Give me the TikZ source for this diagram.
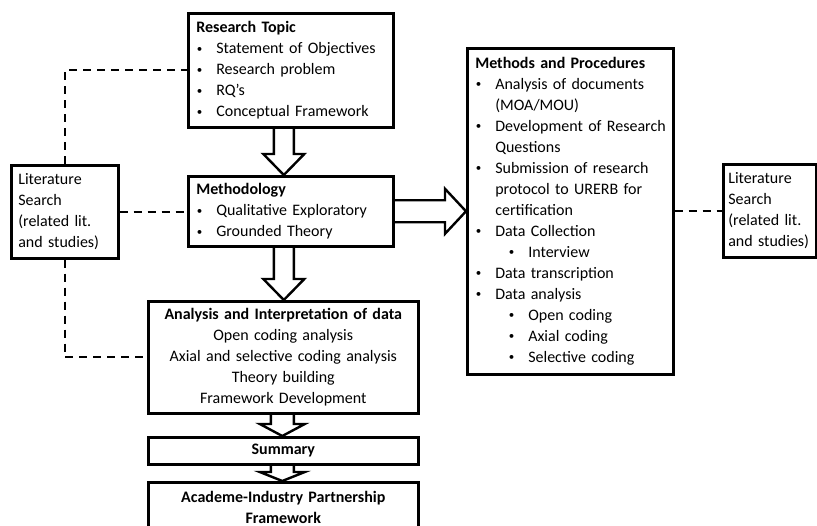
\documentclass[tikz,border=0pt]{standalone}
\usepackage{fontspec}
\setmainfont{Carlito}
\usetikzlibrary{calc}

% bullet helpers for the list-style boxes
\newcommand{\bdot}{\raisebox{1.6pt}{\fontsize{11}{11}\selectfont •}}
\newcommand{\bitem}{\makebox[20pt][l]{\hspace{0.5pt}\bdot}}
\newcommand{\bcont}{\hspace*{20pt}}
\newcommand{\bsub}{\hspace*{33pt}\makebox[20pt][l]{\hspace{0.5pt}\bdot}}

\begin{document}
\begin{tikzpicture}[x=1pt,y=-1pt,
  every node/.style={font=\fontsize{16}{21}\selectfont},
  box/.style={draw, line width=2.6pt, rectangle, inner ysep=0pt, anchor=north west},
  leftbox/.style={box, align=left, inner xsep=8pt},
  centerbox/.style={box, align=center, inner xsep=4pt},
  litlink/.style={line width=1.8pt, dash pattern=on 8pt off 6pt},
  blockarrow/.style={line width=2.4pt, line join=miter}
]
\useasboundingbox (0,0) rectangle (817,526);
\clip (0,0) rectangle (817,526);

% ---- boxes ----
\node[leftbox, text width=189pt, minimum width=205pt, minimum height=114pt] (rt) at (187,12)
  {\textbf{Research Topic}\\
   \bitem Statement of Objectives\\
   \bitem Research problem\\
   \bitem RQ’s\\
   \bitem Conceptual Framework};

\node[leftbox, text width=189pt, minimum width=205pt, minimum height=70pt] (meth) at (187,175)
  {\textbf{Methodology}\\
   \bitem Qualitative Exploratory\\
   \bitem Grounded Theory};

\node[leftbox, inner xsep=7pt, text width=93pt, minimum width=107pt, minimum height=93pt] (litL) at (10,164)
  {Literature\\ Search\\ (related lit.\\ and studies)};

\node[centerbox, text width=262pt, minimum width=270pt, minimum height=112pt] (an) at (147,300)
  {\textbf{Analysis and Interpretation of data}\\
   Open coding analysis\\
   Axial and selective coding analysis\\
   Theory building\\
   Framework Development};

\node[centerbox, text width=262pt, minimum width=270pt, minimum height=27pt] (sum) at (147,436)
  {\textbf{Summary}};

\node[centerbox, text width=262pt, minimum width=270pt, minimum height=50pt] (fin) at (147,481)
  {\textbf{Academe-Industry Partnership}\\ \textbf{Framework}};

\node[leftbox, text width=190pt, minimum width=206pt, minimum height=326pt] (mp) at (466,47)
  {\textbf{Methods and Procedures}\\
   \bitem\mbox{Analysis of documents}\\
   \bcont (MOA/MOU)\\
   \bitem\mbox{Development of Research}\\
   \bcont Questions\\
   \bitem\mbox{Submission of research}\\
   \bcont\mbox{protocol to URERB for}\\
   \bcont certification\\
   \bitem Data Collection\\
   \bsub Interview\\
   \bitem Data transcription\\
   \bitem Data analysis\\
   \bsub Open coding\\
   \bsub Axial coding\\
   \bsub Selective coding};

\node[leftbox, inner xsep=5pt, text width=83pt, minimum width=93pt, minimum height=93pt] (litR) at (722,163)
  {Literature\\ Search\\ \mbox{(related lit.}\\ \mbox{and studies)}};

% ---- block arrows ----
\draw[blockarrow] let \p1=($(rt.south)+(-7,0)$), \p2=(meth.north) in
  (\x1-10pt,\y1) -- (\x1-10pt,\y2+21pt) -- (\x1-20.5pt,\y2+21pt) -- (\x1,\y2)
  -- (\x1+20.5pt,\y2+21pt) -- (\x1+10pt,\y2+21pt) -- (\x1+10pt,\y1);
\draw[blockarrow] let \p1=($(meth.south)+(-7,0)$), \p2=(an.north) in
  (\x1-10pt,\y1) -- (\x1-10pt,\y2+21pt) -- (\x1-20.5pt,\y2+21pt) -- (\x1,\y2)
  -- (\x1+20.5pt,\y2+21pt) -- (\x1+10pt,\y2+21pt) -- (\x1+10pt,\y1);
\draw[blockarrow] let \p1=($(an.south)+(-1,0)$), \p2=(sum.north) in
  (\x1-11.5pt,\y1) -- (\x1-11.5pt,\y2+12pt) -- (\x1-22.5pt,\y2+12pt) -- (\x1,\y2)
  -- (\x1+22.5pt,\y2+12pt) -- (\x1+11.5pt,\y2+12pt) -- (\x1+11.5pt,\y1);
\draw[blockarrow] let \p1=($(sum.south)+(-1,0)$), \p2=(fin.north) in
  (\x1-11.5pt,\y1) -- (\x1-11.5pt,\y2+9pt) -- (\x1-22.5pt,\y2+9pt) -- (\x1,\y2)
  -- (\x1+22.5pt,\y2+9pt) -- (\x1+11.5pt,\y2+9pt) -- (\x1+11.5pt,\y1);
\draw[blockarrow] let \p1=(meth.east), \p2=(mp.west) in
  (\x1,\y1+11pt) -- (\x2-21pt,\y1+11pt) -- (\x2-21pt,\y1+22.5pt) -- (\x2,\y1)
  -- (\x2-21pt,\y1-22.5pt) -- (\x2-21pt,\y1-11pt) -- (\x1,\y1-11pt);

% ---- literature search links ----
\draw[litlink] (litL.north) |- (rt.west);
\draw[litlink] (litL.east) -- (litL.east -| meth.west);
\draw[litlink] (litL.south) |- (an.west);
\draw[litlink] (mp.east) -- (mp.east -| litR.west);
\end{tikzpicture}
\end{document}
